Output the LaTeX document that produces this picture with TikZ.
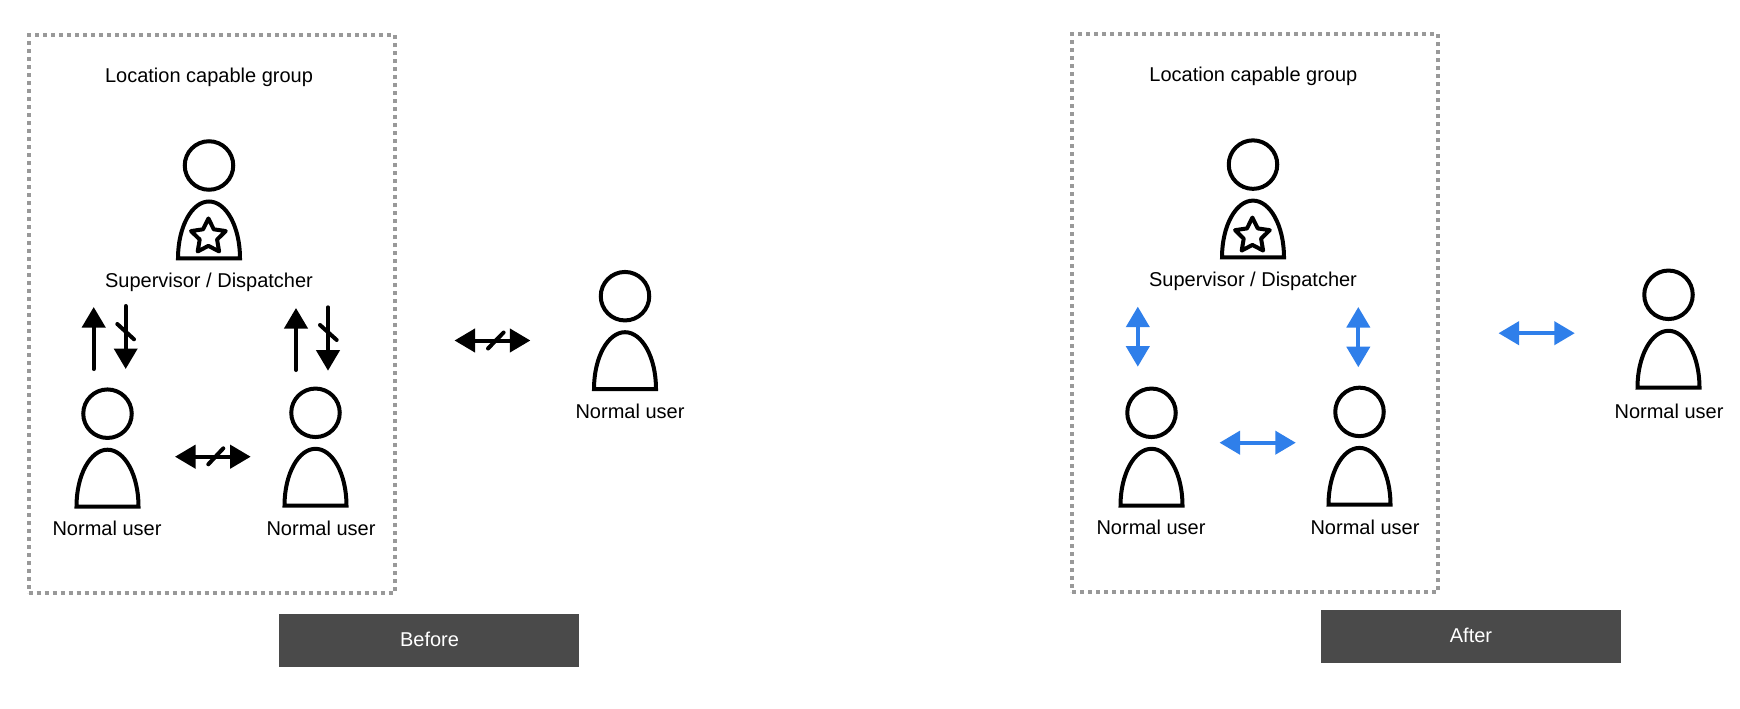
\documentclass[tikz,border=0pt]{standalone}
\usepackage{fontspec}
\setmainfont{Liberation Sans}
\usetikzlibrary{arrows.meta,shapes.geometric}
\definecolor{dotgray}{HTML}{999999}
\definecolor{tagdark}{HTML}{4A4A4A}
\definecolor{linkblue}{HTML}{2F7FEA}
\tikzset{
	lbl/.style={anchor=base,inner sep=0pt,font=\fontsize{20}{24}\selectfont},
	groupbox/.style={draw=dotgray,line width=4pt,dash pattern=on 4pt off 4pt,minimum width=366pt,minimum height=558pt,inner sep=0pt},
	tagbox/.style={fill=tagdark,text=white,minimum width=300pt,minimum height=53pt,inner sep=0pt,font=\fontsize{20}{24}\selectfont},
	person/.pic={
		\node[circle,draw,line width=4pt,minimum size=48.5pt,inner sep=0pt] (-head) at (0,0) {};
		\draw[line width=4pt] (-31,92.8) .. controls (-31,61) and (-17,36) .. (0,36) .. controls (17,36) and (31,61) .. (31,92.8) -- cycle;
	},
	badge/.style={star,star points=5,star point ratio=2,draw,line width=4pt,line join=round,minimum size=36.5pt,inner sep=0pt},
	cut/.style={line width=4pt,line cap=round},
	link/.style={line width=4pt,line cap=round,{Triangle[width=23pt,length=20.5pt]}-{Triangle[width=23pt,length=20.5pt]}},
	oneway/.style={line width=4pt,line cap=round,-{Triangle[width=23pt,length=20.5pt]}}
}
\begin{document}
\begin{tikzpicture}[x=1pt,y=-1pt]
	\useasboundingbox (0,0) rectangle (1740,709);

	\node (groupB) [groupbox] at (211.5,314.3) {};
	\node (titleB) [lbl] at (209,82.7) {Location capable group};
	\pic (supB) at (209,165.5) {person};
	\node (starB) [badge] at (208.4,236.7) {};
	\node (supBlbl) [lbl] at (209,287.6) {Supervisor / Dispatcher};
	\pic (leftB) at (107.5,413.7) {person};
	\node (leftBlbl) [lbl] at (107,535.4) {Normal user};
	\pic (rightB) at (315.5,412.8) {person};
	\node (rightBlbl) [lbl] at (321,535.4) {Normal user};
	\pic (farB) at (625,296.2) {person};
	\node (farBlbl) [lbl] at (630,418.3) {Normal user};
	\node (tagB) [tagbox] at (429,640.5) {};
	\node (tagBlbl) [lbl,text=white] at (429.5,646.1) {Before};

	\coordinate (a1) at (93.7,369);
	\coordinate (a2) at (93.7,307);
	\coordinate (b1) at (125.7,306);
	\coordinate (b2) at (125.7,369);
	\coordinate (c1) at (296,370);
	\coordinate (c2) at (296,308);
	\coordinate (d1) at (328,307.3);
	\coordinate (d2) at (328,370.7);
	\coordinate (e1) at (175,456.7);
	\coordinate (e2) at (250.7,456.7);
	\coordinate (f1) at (454.5,340.5);
	\coordinate (f2) at (530.4,340.5);
	\path [oneway] (a1) edge (a2);
	\path [oneway] (b1) edge (b2);
	\path [oneway] (c1) edge (c2);
	\path [oneway] (d1) edge (d2);
	\path [link] (e1) edge (e2);
	\path [link] (f1) edge (f2);
	\draw [cut] (117.3,324) -- (134,339.3);
	\draw [cut] (320,325) -- (336.7,340);
	\draw [cut] (208.3,464.3) -- (223.3,448.3);
	\draw [cut] (488,348.5) -- (503.6,332.5);

	\node (groupA) [groupbox] at (1255,313.3) {};
	\node (titleA) [lbl] at (1253.4,81.8) {Location capable group};
	\pic (supA) at (1253,164.6) {person};
	\node (starA) [badge] at (1252.4,235.8) {};
	\node (supAlbl) [lbl] at (1253,286.7) {Supervisor / Dispatcher};
	\pic (leftA) at (1151.5,412.8) {person};
	\node (leftAlbl) [lbl] at (1151,534.5) {Normal user};
	\pic (rightA) at (1359.5,411.9) {person};
	\node (rightAlbl) [lbl] at (1365,534.5) {Normal user};
	\pic (farA) at (1668.5,294.8) {person};
	\node (farAlbl) [lbl] at (1669,418.3) {Normal user};
	\node (tagA) [tagbox] at (1470.8,636.5) {};
	\node (tagAlbl) [lbl,text=white] at (1471,642.5) {After};

	\coordinate (g1) at (1137.8,306.6);
	\coordinate (g2) at (1137.8,366.7);
	\coordinate (h1) at (1358.3,307);
	\coordinate (h2) at (1358.3,367.2);
	\coordinate (i1) at (1219.5,442.7);
	\coordinate (i2) at (1295.8,442.7);
	\coordinate (j1) at (1498.5,333.2);
	\coordinate (j2) at (1574.8,333.2);
	\begin{scope}[every edge/.style={draw=linkblue,link}]
	\path [fill=linkblue] (g1) edge (g2);
	\path [fill=linkblue] (h1) edge (h2);
	\path [fill=linkblue] (i1) edge (i2);
	\path [fill=linkblue] (j1) edge (j2);
	\end{scope}
\end{tikzpicture}
\end{document}
